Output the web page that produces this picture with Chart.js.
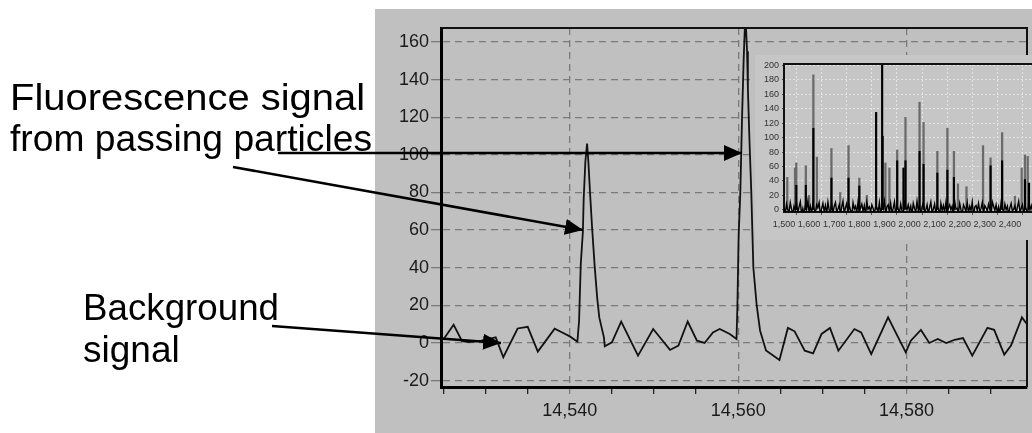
<!DOCTYPE html>
<html>
<head>
<meta charset="utf-8">
<script src="https://cdn.jsdelivr.net/npm/chart.js@4.4.1/dist/chart.umd.min.js"></script>
<style>
  html, body { margin: 0; padding: 0; background: #fff; }
  body { width: 1032px; height: 433px; overflow: hidden; position: relative; font-family: "Liberation Sans", Arial, sans-serif; }
  #mainBox { position: absolute; left: 375px; top: 9px; width: 657px; height: 424px; background: #c0c0c0; }
  #insetBox { position: absolute; left: 755px; top: 55px; width: 290px; height: 185px; background: #c6c6c6; }
  #notes { position: absolute; left: 0; top: 0; }
  #notes text { font-family: "Liberation Sans", Arial, sans-serif; font-size: 37px; fill: #000; }
</style>
</head>
<body>
<div id="mainBox"><canvas id="mainChart"></canvas></div>
<div id="insetBox"><canvas id="insetChart"></canvas></div>
<svg id="notes" width="1032" height="433">
  <defs>
    <marker id="head" viewBox="0 0 18 16" refX="18" refY="8" markerWidth="18" markerHeight="16" markerUnits="userSpaceOnUse" orient="auto">
      <path d="M0,0 L18,8 L0,16 z" fill="#000"/>
    </marker>
  </defs>
  <text x="10" y="110" textLength="355" lengthAdjust="spacingAndGlyphs">Fluorescence signal</text>
  <text x="10" y="151" textLength="362" lengthAdjust="spacingAndGlyphs">from passing particles</text>
  <text x="83" y="320" textLength="196" lengthAdjust="spacingAndGlyphs">Background</text>
  <text x="83" y="362">signal</text>
  <line x1="278" y1="153" x2="742" y2="153" stroke="#000" stroke-width="2.5" marker-end="url(#head)"/>
  <line x1="233" y1="167" x2="583" y2="230" stroke="#000" stroke-width="2.5" marker-end="url(#head)"/>
  <line x1="272" y1="326" x2="501" y2="343" stroke="#000" stroke-width="2.5" marker-end="url(#head)"/>
</svg>
<script>
const FONT = '"Liberation Sans", Arial, sans-serif';

// main trace: time position and signal
const mainX = [14525, 14526.2, 14527.2, 14528, 14529.5, 14531.2, 14532.1, 14533.8, 14535.0, 14536.2,
  14538.2, 14539.1, 14540.0, 14540.9, 14541.1, 14541.3, 14541.55, 14541.65, 14541.85, 14542.05,
  14542.2, 14542.4, 14542.65, 14542.95, 14543.25, 14543.5, 14544.05, 14544.15, 14545.0, 14546.1,
  14548.1, 14549.9, 14551.9, 14552.9, 14554.0, 14555.1, 14556.0, 14557.0, 14557.8, 14559.0,
  14559.8, 14559.9, 14560.05, 14560.25, 14560.45, 14560.65, 14560.85, 14561.05, 14561.15, 14561.35,
  14561.55, 14561.8, 14562.2, 14562.6, 14563.3, 14564.9, 14565.9, 14566.7, 14567.9, 14568.9,
  14569.9, 14570.9, 14571.9, 14573.8, 14574.6, 14575.8, 14577.8, 14579.9, 14580.5, 14581.7,
  14582.7, 14583.7, 14584.7, 14585.7, 14586.7, 14587.8, 14589.6, 14590.4, 14591.6, 14592.4,
  14593.7, 14594.3];
const mainY = [2, 9.7, 1, 0.5, 1.2, 3, -7.6, 7.7, 8.6, -4.6,
  7.6, 5.6, 3.5, 0.7, 11.8, 42, 59, 77, 96.6, 106,
  96.6, 80, 61, 41, 24, 13.6, 3, -1.8, 0.3, 11.4,
  -6.7, 7.4, -3.7, -1.4, 11.4, 1.2, 0, 5.6, 7.4, 4.8,
  2.1, 18.9, 57, 80, 118.7, 151, 175, 155, 135, 106,
  80.7, 40, 19.8, 6.5, -4, -9, 8, 6.2, -4.1, -5.5,
  4.8, 8, -4.1, 7.4, 5.6, -5.9, 13.6, -5, 1.2, 6.9,
  0, 2.1, 0, 1.7, 2.6, -6.7, 8, 7, -6.2, -1.4,
  13.6, 10];

// inset: baseline noise sampled every 5 from 1,500
const insetNoiseStart = 1500;
const insetNoiseStep = 5;
const insetNoise = [3, -5, 8, 0, -3, 10, 1, -6, 5, -1,
  9, -4, 4, 11, -6, 2, -7, 6, 0, 12,
  -3, 5, -5, 8, 1, -4, 7, 3, 10, -8,
  2, 9, -2, 6, -6, 11, 0, -4, 8, -5,
  5, 10, -3, 1, 7, -7, 4, 12, -5, 3,
  9, -6, 6, 0, -8, 10, 1, 5, -4, 11,
  -5, 3, 8, -2, 6, -7, 11, 1, 4, -3,
  7, 2, -5, 5, 3, -4, 10, -6, 5, 1,
  12, -6, 4, 7, -3, 9, -5, 2, 11, -7,
  6, 1, -4, 8, -1, -6, 10, 4, 0, 7,
  -2, 5, -7, 9, 2, -3, 12, -1, 6, -8,
  4, 10, -3, 0, 7, -6, 3, 11, -4, 1,
  8, -5, 5, 2, -8, 9, -1, 6, -3, 10,
  -6, 3, 7, 0, 5, -7, 12, 1, 2, -4,
  9, 0, -6, 7, 3, -2, 10, -4, 5, -1,
  11, -8, 4, 6, -1, 9, -3, 2, 10, -5,
  6, 3, -2, 8, 1, -6, 11, 5, -1, 7,
  -4, 4, -6, 10, 2, -3, 8, 0, 5, -7,
  3, 9, -2, 1, 6, -5, 4, 12, -3, 2,
  7, -6, 5, 1, -7, 10, 0, 6, -2, 8];

// inset spikes
const insetGrayX = [1513, 1544, 1549, 1587, 1600, 1617, 1631, 1689, 1724, 1757, 1800, 1830, 1904, 1920, 1951,
  1984, 2040, 2056, 2111, 2151, 2177, 2193, 2227, 2293, 2323, 2369, 2420, 2447, 2460, 2471];
const insetGrayY = [45, 58, 65, 61, 20, 187, 73, 85, 24, 89, 44, 20, 65, 58, 83,
  128, 149, 121, 81, 113, 81, 36, 32, 89, 72, 107, 19, 58, 76, 74];
const insetBlackX = [1549, 1587, 1617, 1689, 1757, 1800, 1867, 1891, 1893, 1951, 1976, 1984, 2040, 2056,
  2111, 2151, 2177, 2323, 2369, 2460, 2476];
const insetBlackY = [34, 34, 113, 44, 44, 33, 135, 205, 102, 68, 58, 68, 81, 63,
  51, 55, 45, 61, 68, 42, 37];

function framePlugin(id, withRight) {
  return {
    id: id,
    afterDatasetsDraw(chart) {
      const ctx = chart.ctx;
      const a = chart.chartArea;
      ctx.save();
      ctx.strokeStyle = '#111';
      ctx.lineWidth = 2;
      ctx.beginPath();
      ctx.moveTo(a.left, a.top);
      ctx.lineTo(a.right, a.top);
      if (withRight) ctx.lineTo(a.right, a.bottom);
      ctx.stroke();
      ctx.restore();
    }
  };
}

new Chart(document.getElementById('mainChart'), {
  type: 'line',
  data: {
    datasets: [{
      data: mainX.map((x, i) => ({ x: x, y: mainY[i] })),
      borderColor: '#111',
      borderWidth: 1.8,
      pointRadius: 0,
      tension: 0
    }]
  },
  options: {
    responsive: true,
    maintainAspectRatio: false,
    animation: false,
    layout: { padding: { top: 19, right: 5, left: 0, bottom: 0 } },
    plugins: { legend: { display: false }, tooltip: { enabled: false } },
    scales: {
      x: {
        type: 'linear',
        min: 14524.7,
        max: 14594.3,
        afterFit(scale) { scale.height = 46; },
        ticks: {
          stepSize: 5,
          includeBounds: false,
          autoSkip: false,
          maxRotation: 0,
          padding: 6,
          color: '#1a1a1a',
          font: { family: FONT, size: 18 },
          callback: (v) => (v % 20 === 0 ? v.toLocaleString('en-US') : '')
        },
        grid: {
          color: (c) => (c.tick && c.tick.value % 20 === 0 ? '#7a7a7a' : 'rgba(0,0,0,0)'),
          tickColor: (c) => (c.tick && c.tick.value % 20 === 0 ? '#7a7a7a' : '#222'),
          tickLength: 7,
          lineWidth: 1.3
        },
        border: { display: true, color: '#000', width: 3, dash: [7, 5] }
      },
      y: {
        min: -23.4,
        max: 167.4,
        afterFit(scale) { scale.width = 66; },
        ticks: {
          stepSize: 20,
          includeBounds: false,
          padding: 2,
          color: '#1a1a1a',
          font: { family: FONT, size: 18 }
        },
        grid: { color: '#7a7a7a', tickColor: '#7a7a7a', tickLength: 10, lineWidth: 1.3 },
        border: { display: true, color: '#000', width: 3, dash: [7, 5] }
      }
    }
  },
  plugins: [framePlugin('mainFrame', true)]
});

new Chart(document.getElementById('insetChart'), {
  type: 'bar',
  data: {
    datasets: [
      {
        type: 'line',
        data: insetNoise.map((v, i) => ({ x: insetNoiseStart + i * insetNoiseStep, y: v })),
        borderColor: '#000',
        borderWidth: 1.4,
        pointRadius: 0,
        tension: 0,
        order: 0
      },
      {
        data: insetBlackX.map((x, i) => ({ x: x, y: insetBlackY[i] })),
        backgroundColor: '#000',
        barThickness: 1.5,
        grouped: false,
        order: 1
      },
      {
        data: insetGrayX.map((x, i) => ({ x: x, y: insetGrayY[i] })),
        backgroundColor: '#6a6a6a',
        barThickness: 1.6,
        grouped: false,
        order: 2
      }
    ]
  },
  options: {
    responsive: true,
    maintainAspectRatio: false,
    animation: false,
    layout: { padding: { top: 9, right: 10, left: 0, bottom: 0 } },
    plugins: { legend: { display: false }, tooltip: { enabled: false } },
    scales: {
      x: {
        type: 'linear',
        min: 1500,
        max: 2500,
        offset: false,
        afterFit(scale) { scale.height = 28; },
        ticks: {
          stepSize: 100,
          includeBounds: false,
          autoSkip: false,
          maxRotation: 0,
          padding: 4,
          color: '#333',
          font: { family: FONT, size: 9 },
          callback: (v) => (v < 2500 ? v.toLocaleString('en-US') : '')
        },
        grid: { color: '#e4e4e4', tickColor: '#555', tickLength: 3, lineWidth: 1 },
        border: { display: true, color: '#111', width: 2, dash: [2, 2] }
      },
      y: {
        min: -3,
        max: 202,
        afterFit(scale) { scale.width = 29; },
        ticks: {
          stepSize: 20,
          includeBounds: false,
          padding: 3,
          color: '#333',
          font: { family: FONT, size: 9 }
        },
        grid: { color: '#e4e4e4', tickColor: '#555', tickLength: 2, lineWidth: 1 },
        border: { display: true, color: '#111', width: 2, dash: [2, 2] }
      }
    }
  },
  plugins: [framePlugin('insetFrame', false)]
});
</script>
</body>
</html>
